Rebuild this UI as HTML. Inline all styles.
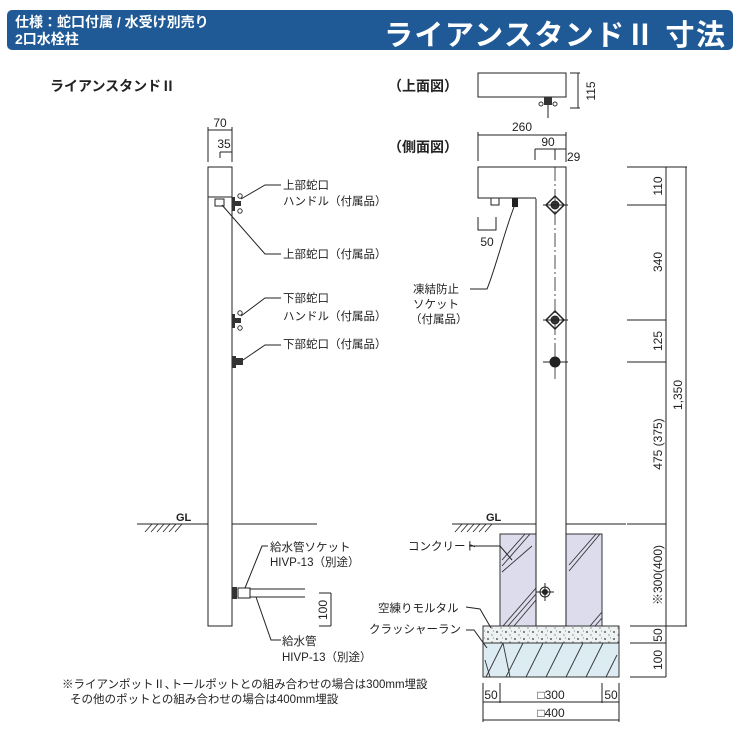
<!DOCTYPE html>
<html><head><meta charset="utf-8"><style>
html,body{margin:0;padding:0;background:#fff;}
svg{display:block;}
text{font-family:"Liberation Sans","Noto Sans CJK JP",sans-serif;fill:#222;}
</style></head><body>
<svg width="740" height="740" viewBox="0 0 740 740" xmlns="http://www.w3.org/2000/svg">
<defs>
<pattern id="dots" width="9" height="7" patternUnits="userSpaceOnUse">
<rect width="9" height="7" fill="#eef2f2"/>
<circle cx="2" cy="2" r="0.9" fill="#333"/><circle cx="6" cy="5" r="0.6" fill="#555"/><circle cx="7.5" cy="1" r="0.5" fill="#666"/>
</pattern>
</defs>
<!-- header -->
<rect x="7" y="10" width="726" height="40" rx="5" fill="#1f5a96"/>
<text x="15" y="27" font-size="14" font-weight="bold" style="fill:#fff">仕様：蛇口付属 / 水受け別売り</text>
<text x="15" y="44" font-size="14" font-weight="bold" style="fill:#fff">2口水栓柱</text>
<text x="384" y="45" font-size="29" font-weight="bold" style="fill:#fff" textLength="341">ライアンスタンドⅡ 寸法</text>

<text x="50" y="91" font-size="14" font-weight="bold">ライアンスタンドⅡ</text>
<text x="388" y="91" font-size="14" font-weight="bold">（上面図）</text>
<text x="388" y="152" font-size="14" font-weight="bold">（側面図）</text>

<g stroke="#222" stroke-width="1" fill="none">
<!-- left pole -->
<rect x="208" y="167" width="24" height="459" fill="#fff"/>
<line x1="208" y1="197" x2="232" y2="197"/>
<rect x="215" y="199" width="9" height="7"/>
<!-- dims 70/35 -->
<line x1="208" y1="130" x2="232" y2="130"/><line x1="208" y1="127" x2="208" y2="162"/><line x1="232" y1="127" x2="232" y2="162"/>
<line x1="220" y1="152" x2="232" y2="152"/><line x1="220" y1="152" x2="220" y2="158"/>
<!-- leaders left -->
<polyline points="241,199 265,185 281,185"/>
<polyline points="222,205 265,254 281,254"/>
<polyline points="241,316 265,298 281,298"/>
<polyline points="243,360 265,345 281,345"/>
<polyline points="245,588 262,546 268,546"/>
<polyline points="256,597 271,640 281,640"/>
<!-- GL left -->
<line x1="137" y1="524" x2="208" y2="524"/><line x1="232" y1="524" x2="317" y2="524"/>
<path d="M145 532 L152 524 M151 532 L158 524 M157 532 L164 524 M163 532 L170 524 M169 532 L176 524 M175 532 L182 524" stroke-width="0.8"/>
<!-- pipe -->
<line x1="250" y1="589" x2="305" y2="589"/><line x1="250" y1="597" x2="305" y2="597"/>
<rect x="238" y="588" width="12" height="10" fill="#fff"/>
<line x1="319" y1="593" x2="331" y2="593"/><line x1="319" y1="626" x2="331" y2="626"/><line x1="331" y1="593" x2="331" y2="626"/>
</g>
<!-- left handles -->
<g fill="#333">
<rect x="232" y="197" width="3" height="14"/><rect x="235" y="201" width="6" height="5"/>
<circle cx="240" cy="196" r="2.2" fill="#fff" stroke="#333"/><circle cx="240" cy="211" r="2.2" fill="#fff" stroke="#333"/>
<rect x="232" y="314" width="3" height="14"/><rect x="235" y="318" width="6" height="5"/>
<circle cx="240" cy="313" r="2.2" fill="#fff" stroke="#333"/><circle cx="240" cy="328" r="2.2" fill="#fff" stroke="#333"/>
<rect x="232" y="356" width="4" height="12"/><rect x="236" y="358" width="7" height="7"/>
<rect x="232" y="587" width="5" height="12"/>
</g>
<g font-size="11.5">
<text x="220" y="127" text-anchor="middle" font-size="12">70</text>
<text x="224" y="148" text-anchor="middle" font-size="12">35</text>
<text x="283" y="189">上部蛇口</text>
<text x="283" y="205">ハンドル（付属品）</text>
<text x="283" y="258">上部蛇口（付属品）</text>
<text x="283" y="302">下部蛇口</text>
<text x="283" y="320">ハンドル（付属品）</text>
<text x="283" y="348">下部蛇口（付属品）</text>
<text x="176" y="521" font-size="11" font-weight="bold">GL</text>
<text x="270" y="551">給水管ソケット</text>
<text x="270" y="566">HIVP-13（別途）</text>
<text x="282" y="645">給水管</text>
<text x="282" y="661">HIVP-13（別途）</text>
<text x="327" y="610" font-size="12" transform="rotate(-90 327 610)" text-anchor="middle">100</text>
<text x="62" y="688">※ライアンポットⅡ､トールポットとの組み合わせの場合は300mm埋設</text>
<text x="70" y="703">その他のポットとの組み合わせの場合は400mm埋設</text>
</g>

<!-- top view -->
<g stroke="#222" stroke-width="1" fill="none">
<rect x="478" y="73" width="88" height="24" fill="#fff"/>
<line x1="570" y1="73" x2="580" y2="73"/><line x1="570" y1="108" x2="580" y2="108"/><line x1="578" y1="73" x2="578" y2="108"/>
<line x1="548" y1="97" x2="548" y2="118"/>
</g>
<g fill="#333"><rect x="544" y="97" width="8" height="8"/><circle cx="541" cy="104" r="2" fill="#fff" stroke="#333"/><circle cx="555" cy="104" r="2" fill="#fff" stroke="#333"/></g>
<text x="595" y="91" font-size="12" transform="rotate(-90 595 91)" text-anchor="middle">115</text>

<!-- side view -->
<!-- concrete -->
<rect x="500" y="534" width="102" height="92" fill="#dcdcec" stroke="#333"/>
<g stroke="#333" stroke-width="0.9" fill="none">
<path d="M502 560 L525 534 M502 566 L530 534 M502 572 L532 546"/>
<path d="M569 565 L596 534 M569 571 L600 534"/>
<path d="M503 626 L536 588 M508 626 L536 594 M514 626 L536 600"/>
<path d="M590 626 L602 612 M595 626 L602 618"/>
</g>
<!-- mortar -->
<rect x="483" y="626" width="136" height="17" fill="url(#dots)" stroke="#333"/>
<!-- crusher run -->
<rect x="483" y="643" width="136" height="34" fill="#dcecf2" stroke="#333"/>
<g stroke="#333" stroke-width="0.9" fill="none">
<path d="M486 677 L503 643 M506 677 L523 643 M526 677 L543 643 M546 677 L563 643 M566 677 L583 643 M586 677 L603 643 M606 677 L617 655"/>
<path d="M485 660 L490 677 M503 643 L510 677"/>
</g>
<g stroke="#222" stroke-width="1" fill="none">
<!-- pole -->
<rect x="536" y="198" width="30" height="428" fill="#fff"/>
<rect x="478" y="167" width="88" height="31" fill="#fff"/>
<line x1="536" y1="198" x2="566" y2="198" stroke="#fff" stroke-width="1.5"/>
<line x1="566" y1="167" x2="566" y2="626"/>
<line x1="555" y1="167" x2="555" y2="380" stroke-dasharray="14 3 2 3" stroke-width="0.8"/>
<rect x="491" y="198" width="8" height="7" fill="#fff"/>
<!-- dims -->
<line x1="478" y1="135" x2="566" y2="135"/><line x1="478" y1="132" x2="478" y2="161"/><line x1="566" y1="132" x2="566" y2="162"/>
<line x1="535" y1="149" x2="566" y2="149"/><line x1="535" y1="149" x2="535" y2="160"/><line x1="555" y1="149" x2="555" y2="160"/>
<polyline points="478,217 478,230 496,230 496,217"/>
<path d="M514 207 C505 230 495 270 487 289 L470 289"/>
<!-- right dims -->
<line x1="627" y1="167" x2="687" y2="167"/>
<line x1="627" y1="205" x2="666" y2="205"/>
<line x1="627" y1="320" x2="666" y2="320"/>
<line x1="627" y1="362" x2="666" y2="362"/>
<line x1="627" y1="524" x2="666" y2="524"/>
<line x1="630" y1="626" x2="687" y2="626"/>
<line x1="630" y1="643" x2="666" y2="643"/>
<line x1="630" y1="677" x2="666" y2="677"/>
<line x1="666" y1="167" x2="666" y2="677"/>
<line x1="686" y1="167" x2="686" y2="626"/>
<!-- GL right -->
<line x1="452" y1="524" x2="536" y2="524"/><line x1="566" y1="524" x2="626" y2="524"/>
<path d="M455 532 L462 524 M461 532 L468 524 M467 532 L474 524 M473 532 L480 524 M479 532 L486 524 M485 532 L492 524" stroke-width="0.8"/>
<!-- leaders -->
<polyline points="469,546 500,546 512,560"/>
<polyline points="466,607 480,609 491,628"/>
<polyline points="466,630 474,630 487,648"/>
<!-- bottom dims -->
<line x1="483" y1="683" x2="483" y2="722"/><line x1="619" y1="683" x2="619" y2="722"/>
<line x1="500" y1="683" x2="500" y2="703"/><line x1="602" y1="683" x2="602" y2="703"/>
<line x1="483" y1="702" x2="619" y2="702"/>
<line x1="483" y1="720" x2="619" y2="720"/>
</g>
<!-- side handles -->
<g stroke="#222" fill="none">
<path d="M555 196 L564 205 L555 214 L546 205 Z" stroke-width="1.5"/><circle cx="555" cy="205" r="4" fill="#333"/>
<line x1="543" y1="205" x2="568" y2="205"/>
<path d="M555 311 L564 320 L555 329 L546 320 Z" stroke-width="1.5"/><circle cx="555" cy="320" r="4" fill="#333"/>
<line x1="543" y1="320" x2="568" y2="320"/>
<circle cx="555" cy="362" r="5" fill="#222"/><line x1="543" y1="362" x2="568" y2="362"/>
<circle cx="545" cy="592" r="5"/><circle cx="545" cy="592" r="2.5" fill="#222"/>
<line x1="536" y1="592" x2="554" y2="592"/><line x1="545" y1="583" x2="545" y2="601"/>
</g>
<rect x="512" y="198" width="6" height="9" fill="#222"/>
<g font-size="12">
<text x="522" y="131" text-anchor="middle">260</text>
<text x="548" y="146" text-anchor="middle">90</text>
<text x="567" y="161">29</text>
<text x="487" y="246" text-anchor="middle">50</text>
<text x="662" y="186" transform="rotate(-90 662 186)" text-anchor="middle">110</text>
<text x="662" y="262" transform="rotate(-90 662 262)" text-anchor="middle">340</text>
<text x="662" y="341" transform="rotate(-90 662 341)" text-anchor="middle">125</text>
<text x="662" y="444" transform="rotate(-90 662 444)" text-anchor="middle">475 (375)</text>
<text x="682" y="395" transform="rotate(-90 682 395)" text-anchor="middle">1,350</text>
<text x="662" y="575" transform="rotate(-90 662 575)" text-anchor="middle">※300(400)</text>
<text x="662" y="635" transform="rotate(-90 662 635)" text-anchor="middle">50</text>
<text x="662" y="660" transform="rotate(-90 662 660)" text-anchor="middle">100</text>
<text x="491" y="699" text-anchor="middle">50</text>
<text x="551" y="699" text-anchor="middle">□300</text>
<text x="611" y="699" text-anchor="middle">50</text>
<text x="551" y="717" text-anchor="middle">□400</text>
</g>
<g font-size="11.5">
<text x="413" y="293">凍結防止</text>
<text x="413" y="308">ソケット</text>
<text x="410" y="323">（付属品）</text>
<text x="486" y="521" font-size="11" font-weight="bold">GL</text>
<text x="408" y="550">コンクリート</text>
<text x="378" y="612">空練りモルタル</text>
<text x="369" y="633">クラッシャーラン</text>
</g>
</svg>
</body></html>
